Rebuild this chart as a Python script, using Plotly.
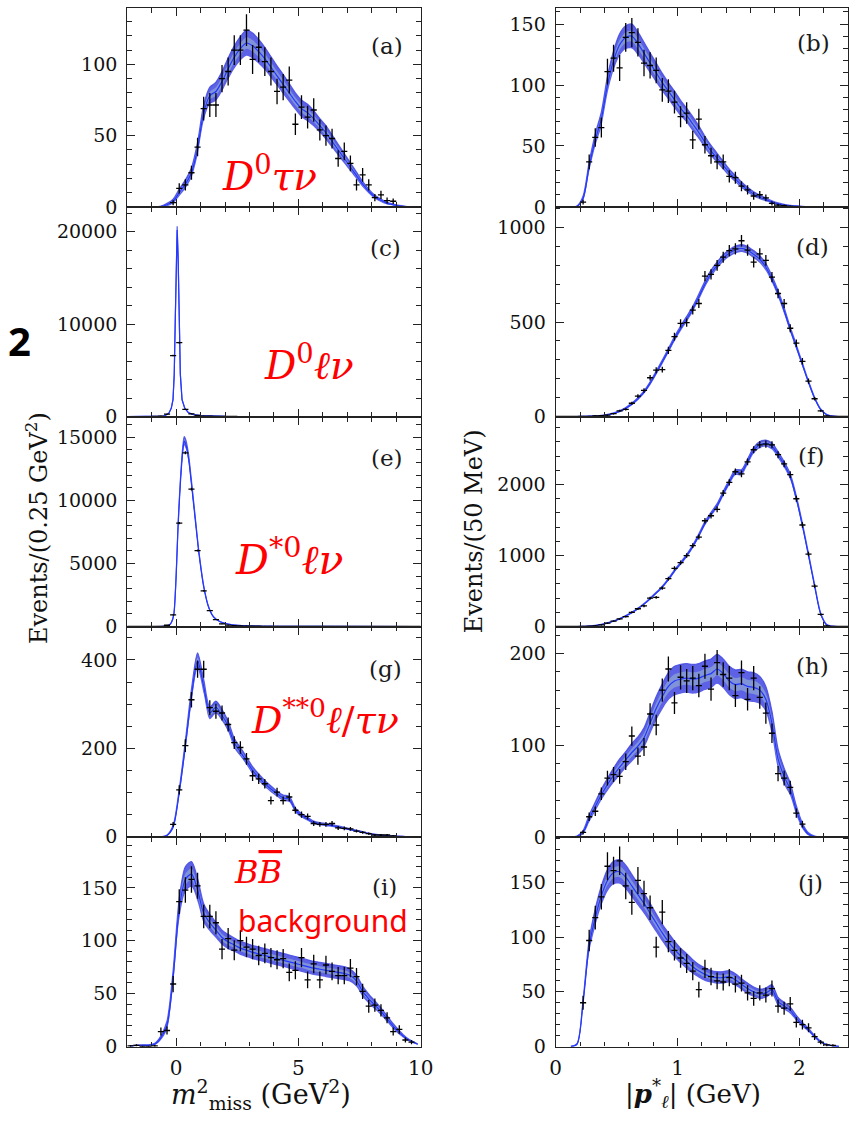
import plotly.graph_objects as go

W, H = 866, 1123

# ---------------- data ----------------
# Left column: m2_miss, bins of 0.25 GeV^2 (bin centres start at *_x0, step 0.25)
# Right column: |p*_l|, bins of 50 MeV (bin centres start at *_x0, step 0.05)

# (a) D0 tau nu, m2_miss
a_data_x0 = -0.125
a_data = [3, 13, 15.5, 24, 42, 69, 71.5, 71.5, 90, 95, 110, 110, 124, 103.5, 112, 102, 95,
          81, 84, 89, 58, 70, 63, 68, 54, 50, 48, 34, 39, 30.5, 15.5, 22.5, 15.5, 6.5, 8.5, 4.5, 4]
a_fit_x0 = -0.875
a_fit = [0, 0.3, 1.5, 4, 10, 16, 24, 41, 66, 78, 81, 88, 97, 105, 111, 115, 113, 109, 104, 98,
         92, 86, 80, 74, 69, 66, 62, 57, 52, 46, 40, 34, 28, 22, 16, 11, 7, 4.5, 2.5, 1.5, 0.8, 0.3, 0]
a_band = [0, 0.3, 1, 1.5, 2.5, 3, 3.5, 4.5, 5.5, 6, 6.5, 7, 7.5, 8, 8.5, 9, 9, 8.5, 8, 7.5,
          7, 7, 6.5, 6, 6, 6, 5.5, 5, 5, 4.5, 4, 3.5, 3, 2.5, 2, 1.5, 1.2, 1, 0.8, 0.5, 0.3, 0.2, 0]

# (b) D0 tau nu, p_l
b_data_x0 = 0.225
b_data = [4, 37, 57, 65, 111, 122, 114, 139, 143, 135, 118, 116, 112, 96, 95, 86, 74, 77, 55, 72,
          51, 42, 37, 37, 25, 24, 17, 14, 9, 10, 7.5, 3, 1.5, 1, 0.5]
b_fit_x0 = 0.125
b_fit = [0, 0.5, 7, 33, 55, 72, 100, 120, 133, 139, 140, 134, 126, 118, 110, 102, 95, 88, 81, 75,
         68, 61, 53, 46, 40, 34, 28, 23, 18, 14, 10.5, 8, 6, 4, 2.5, 1.5, 1, 0.6, 0.3, 0.1, 0]
b_band = [0, 0.3, 2, 4, 5, 6, 7, 8, 9, 9.5, 10, 9.5, 9, 8.5, 8, 7.5, 7, 7, 6.5, 6,
          6, 5.5, 5, 4.5, 4, 3.5, 3, 2.8, 2.5, 2.2, 2, 1.7, 1.4, 1.1, 0.8, 0.6, 0.4, 0.3, 0.2, 0.1, 0]

# (c) D0 l nu, m2_miss
c_data_x0 = -1.875
c_data = [0, 0, 0, 0, 20, 60, 260, 6600, 8000, 790, 300, 120, 60, 35, 20, 15, 10, 8, 6, 5,
          4, 3, 3, 2, 2, 2, 1, 1, 0, 0, 0, 0, 0, 0, 0, 0, 0, 0, 0, 0, 0, 0, 0, 0, 0, 0, 0, 0]
c_fit_x = [-2.0, -1.0, -0.5, -0.3, -0.2, -0.13, -0.08, -0.04, 0.0, 0.04, 0.08, 0.12, 0.17, 0.24,
           0.35, 0.5, 0.7, 1.0, 1.5, 2.0, 3.0, 5.0, 10.0]
c_fit = [0, 0, 50, 350, 900, 1800, 4500, 10000, 17000, 20200, 17000, 10000, 4500, 1800,
         900, 420, 220, 100, 40, 15, 5, 1, 0]
c_band = [0, 0, 5, 20, 40, 70, 150, 250, 350, 400, 350, 250, 150, 70, 40, 20, 10, 5, 2, 1, 0.5, 0, 0]

# (d) D0 l nu, p_l
d_data_x0 = 0.025
d_data = [0, 0, 0, 0, 0, 1, 3, 5, 7, 15, 30, 38, 70, 108, 138, 205, 245, 248, 350, 423,
          493, 497, 563, 598, 743, 752, 800, 843, 878, 887, 930, 881, 817, 861, 826, 738, 651, 598,
          467, 388, 292, 187, 94, 30, 3, 0, 0, 0]
d_fit_x0 = 0.125
d_fit = [0, 0, 0.5, 1.5, 3, 5, 9, 16, 27, 43, 65, 93, 128, 175, 230, 288, 348, 410, 465, 515,
         568, 632, 700, 757, 800, 838, 864, 882, 890, 880, 858, 832, 790, 727, 650, 560, 460, 368,
         273, 180, 96, 36, 9, 1.5, 0, 0]
d_band = [0, 0, 0.2, 0.5, 1, 1.5, 2, 3, 4, 5, 6, 7, 8, 9, 10, 11, 12, 13, 14, 15,
          15, 16, 17, 18, 18, 19, 19, 20, 20, 20, 20, 19, 19, 18, 17, 16, 14, 12, 10, 8,
          6, 4, 2, 1, 0, 0]

# (e) D*0 l nu, m2_miss
e_data_x0 = -1.875
e_data = [0, 0, 0, 0, 0, 0, 100, 920, 8190, 13770, 10890, 6020, 2830, 1260, 550, 210, 110, 70,
          45, 30, 25, 20, 15, 12, 10, 8, 7, 6, 5, 4, 4, 3, 3, 2, 2, 2, 1, 1, 1, 1,
          0, 0, 0, 0, 0, 0, 0, 0]
e_fit_x = [-2.0, -1.0, -0.5, -0.3, -0.2, -0.1, -0.03, 0.03, 0.08, 0.17, 0.27, 0.33, 0.4, 0.5,
           0.63, 0.8, 0.93, 1.13, 1.33, 1.53, 1.8, 2.3, 3.0, 4.0, 6.0, 10.0]
e_fit = [0, 0, 20, 100, 300, 900, 2800, 5500, 8000, 11300, 13900, 14700, 14400, 13400,
         11200, 8100, 5800, 3100, 1500, 750, 370, 130, 50, 20, 5, 0]
e_band = [0, 0, 2, 8, 20, 50, 120, 200, 250, 300, 350, 350, 350, 320, 280, 200, 150, 90, 50,
          25, 12, 5, 2, 1, 0, 0]

# (f) D*0 l nu, p_l
f_data_x0 = 0.025
f_data = [0, 0, 0, 0, 0, 5, 10, 23, 47, 75, 107, 140, 200, 250, 290, 400, 410, 540, 675, 820,
          900, 1000, 1140, 1260, 1490, 1560, 1650, 1880, 2030, 2180, 2150, 2320, 2490, 2560, 2570,
          2560, 2420, 2290, 2140, 1800, 1430, 1020, 570, 170, 10, 0, 0, 0]
f_fit_x0 = 0.125
f_fit = [0, 0, 2, 6, 14, 28, 48, 75, 108, 148, 195, 250, 315, 390, 470, 555, 660, 780, 885, 995,
         1125, 1280, 1450, 1580, 1700, 1870, 2030, 2170, 2170, 2320, 2480, 2560, 2580, 2540, 2420,
         2280, 2110, 1800, 1420, 1000, 570, 175, 20, 2, 0, 0]
f_band = [0, 0, 0.5, 1, 2, 3, 4, 5, 6, 7, 8, 9, 10, 12, 13, 15, 16, 18, 20, 22,
          24, 26, 28, 30, 32, 34, 36, 38, 40, 42, 44, 46, 46, 46, 45, 44, 42, 40, 36, 30,
          24, 16, 8, 3, 0, 0]

# (g) D**0 l/tau nu, m2_miss
g_data_x0 = -0.125
g_data = [28, 106, 206, 310, 379, 379, 292, 284, 280, 254, 213, 202, 176, 138, 131, 120, 82, 101,
          82, 90, 60, 50, 46, 30, 28, 28, 30, 20, 19, 18, 13, 10, 7, 4, 4, 4, 2]
g_fit_x0 = -0.625
g_fit = [0, 3, 22, 100, 205, 318, 398, 340, 280, 293, 275, 250, 212, 192, 172, 150, 134, 120, 108,
         97, 88, 85, 60, 48, 40, 32, 29, 27, 25, 22, 19, 16, 13, 10, 7, 5, 3.5, 2.5, 1.5, 1, 0.4, 0]
g_band = [0, 1, 4, 8, 12, 16, 18, 16, 14, 14, 13, 12, 11, 10, 9, 8.5, 8, 7.5, 7, 6.5,
          6.5, 6.5, 5, 4.5, 4, 3.5, 3, 3, 2.8, 2.5, 2.2, 2, 1.8, 1.5, 1.2, 1, 0.8, 0.6, 0.4, 0.3,
          0.1, 0]

# (h) D**0 l/tau nu, p_l
h_data_x0 = 0.225
h_data = [5, 22, 28, 47, 64, 68, 66, 82, 110, 88, 98, 134, 122, 160, 183, 146, 174, 170, 173, 165,
          186, 161, 190, 177, 173, 154, 179, 150, 173, 152, 135, 113, 69, 64, 54, 26, 14]
h_fit_x0 = 0.125
h_fit = [0, 0.5, 5, 20, 33, 46, 57, 67, 76, 84, 92, 99, 108, 124, 140, 153, 164, 170, 172, 173,
         172, 173, 176, 178, 183, 178, 170, 166, 167, 164, 163, 160, 150, 124, 85, 66, 52, 29, 12,
         3, 0.5, 0]
h_band = [0, 0.5, 2, 4, 5, 6, 7, 8, 9, 9, 10, 10, 11, 12, 13, 14, 15, 16, 16, 16,
          16, 16, 16, 16, 16, 16, 16, 16, 16, 16, 16, 15, 14, 13, 11, 9, 7, 5, 3, 1.5, 0.5, 0]

# (i) BB background, m2_miss
i_data_x0 = -1.875
i_data = [0.5, 1, 0, 0, 0.5, 14, 15, 59, 137, 148, 158, 152, 123, 123, 117, 92, 102, 91, 100, 94,
          92, 86, 88, 84, 82, 83, 70, 72, 84, 63, 78, 63, 77, 71, 67, 67, 74, 66, 52, 38,
          39, 34, 27, 14, 16, 6, 4]
i_fit_x0 = -1.875
i_fit = [0.3, 0.8, 1, 1, 2, 8, 20, 65, 130, 158, 163, 148, 126, 117, 110, 103, 99, 96, 93, 91,
         89, 87.5, 86, 84.5, 83, 81.5, 80, 78.5, 77, 75.5, 74, 73, 72, 71, 70, 69, 67, 62, 52, 45,
         39, 33, 26, 19, 13, 8, 4.5, 2]
i_band = [0.2, 0.3, 0.4, 0.4, 0.8, 2, 4, 7, 10, 12, 12, 11, 9, 8, 7.5, 7, 7, 6.5, 6.5, 6.5,
          6.5, 6.5, 6.5, 6.5, 6.5, 6.5, 6.5, 6.5, 6.5, 6.5, 6.5, 6.5, 6.5, 6.5, 6.5, 6.5, 6, 5.5,
          5, 4.5, 4, 3.5, 3, 2.5, 2, 1.2, 0.8, 0.4]

# (j) BB background, p_l
j_data_x0 = 0.225
j_data = [40, 97, 118, 137, 165, 161, 170, 147, 132, 152, 140, 127, 91, 123, 96, 88, 81, 76, 69, 52,
          71, 64, 60, 59, 63, 57, 58, 49, 44, 49, 47, 53, 37, 35, 39, 22, 20, 17, 9, 4, 1.5, 1]
j_fit_x0 = 0.125
j_fit = [0, 2, 40, 92, 118, 138, 152, 159, 160, 155, 147, 139, 131, 122, 113, 104, 96, 89, 83, 78,
         73, 69, 66, 64, 63, 63, 64, 61, 57, 53, 50, 48, 49, 52, 41, 37, 33, 26, 20, 15, 9, 4, 1.5,
         0.5, 0]
j_band = [0, 0.5, 3, 6, 8, 9, 10, 10.5, 11, 11, 10.5, 10, 9.5, 9, 8.5, 8, 8, 7.5, 7, 7,
          6.5, 6, 6, 5.5, 5.5, 5.5, 5.5, 5.5, 5, 5, 4.5, 4.5, 4.5, 4.5, 4, 3.5, 3, 2.5, 2, 1.5,
          1, 0.6, 0.3, 0.1, 0]

panel_labels = ["(a)", "(b)", "(c)", "(d)", "(e)", "(f)", "(g)", "(h)", "(i)", "(j)"]
left_ticks = ["0", "5", "10"]
right_ticks = ["0", "1", "2"]

# ---------------- layout helpers ----------------
LEFT_X = (124, 424)
RIGHT_X = (562, 861)
ROWS = [(8, 209), (209, 421), (421, 633), (633, 845.5), (845.5, 1057)]


def centres(x0, step, n):
    return [round(x0 + step * k, 5) for k in range(n)]


panels = [
    dict(col=0, row=0, dx=centres(a_data_x0, 0.25, len(a_data)), dy=a_data,
         fx=centres(a_fit_x0, 0.25, len(a_fit)), fy=a_fit, fb=a_band,
         yr=[0, 139.6], dt=50, mdt=10, shape="spline"),
    dict(col=1, row=0, dx=centres(b_data_x0, 0.05, len(b_data)), dy=b_data,
         fx=centres(b_fit_x0, 0.05, len(b_fit)), fy=b_fit, fb=b_band,
         yr=[0, 163.2], dt=50, mdt=10, shape="spline"),
    dict(col=0, row=1, dx=centres(c_data_x0, 0.25, len(c_data)), dy=c_data,
         fx=c_fit_x, fy=c_fit, fb=c_band,
         yr=[-30, 22690], dt=10000, mdt=2000, shape="linear"),
    dict(col=1, row=1, dx=centres(d_data_x0, 0.05, len(d_data)), dy=d_data,
         fx=centres(d_fit_x0, 0.05, len(d_fit)), fy=d_fit, fb=d_band,
         yr=[-2, 1109], dt=500, mdt=100, shape="spline"),
    dict(col=0, row=2, dx=centres(e_data_x0, 0.25, len(e_data)), dy=e_data,
         fx=e_fit_x, fy=e_fit, fb=e_band,
         yr=[-24, 16617], dt=5000, mdt=1000, shape="spline"),
    dict(col=1, row=2, dx=centres(f_data_x0, 0.05, len(f_data)), dy=f_data,
         fx=centres(f_fit_x0, 0.05, len(f_fit)), fy=f_fit, fb=f_band,
         yr=[-4, 2953], dt=1000, mdt=200, shape="spline"),
    dict(col=0, row=3, dx=centres(g_data_x0, 0.25, len(g_data)), dy=g_data,
         fx=centres(g_fit_x0, 0.25, len(g_fit)), fy=g_fit, fb=g_band,
         yr=[-1, 475], dt=200, mdt=50, shape="spline"),
    dict(col=1, row=3, dx=centres(h_data_x0, 0.05, len(h_data)), dy=h_data,
         fx=centres(h_fit_x0, 0.05, len(h_fit)), fy=h_fit, fb=h_band,
         yr=[-0.3, 229], dt=100, mdt=20, shape="spline"),
    dict(col=0, row=4, dx=centres(i_data_x0, 0.25, len(i_data)), dy=i_data,
         fx=centres(i_fit_x0, 0.25, len(i_fit)), fy=i_fit, fb=i_band,
         yr=[-0.3, 198], dt=50, mdt=10, shape="spline"),
    dict(col=1, row=4, dx=centres(j_data_x0, 0.05, len(j_data)), dy=j_data,
         fx=centres(j_fit_x0, 0.05, len(j_fit)), fy=j_fit, fb=j_band,
         yr=[-0.2, 191.6], dt=50, mdt=10, shape="spline"),
]

OUTER = "rgba(70,75,225,0.88)"
INNER = "rgba(130,150,215,0.95)"
LINE = "rgb(35,55,255)"
AXC = "#222222"
SERIF = "DejaVu Serif"
TICKFONT = dict(family=SERIF, size=19, color="#111111")

fig = go.Figure()
layout = dict(width=W, height=H, autosize=False, margin=dict(l=0, r=0, t=0, b=0),
              paper_bgcolor="white", plot_bgcolor="white", showlegend=False,
              font=dict(family=SERIF, color="#111111"))

for idx, p in enumerate(panels):
    n = idx + 1
    xa = "x" if n == 1 else f"x{n}"
    ya = "y" if n == 1 else f"y{n}"
    assert len(p["fx"]) == len(p["fy"]) == len(p["fb"]), idx
    lo = [f - b for f, b in zip(p["fy"], p["fb"])]
    hi = [f + b for f, b in zip(p["fy"], p["fb"])]
    lo2 = [f - 0.45 * b for f, b in zip(p["fy"], p["fb"])]
    hi2 = [f + 0.45 * b for f, b in zip(p["fy"], p["fb"])]
    shp = dict(shape=p["shape"], smoothing=0.8) if p["shape"] == "spline" else dict(shape="linear")
    # outer band
    fig.add_trace(go.Scatter(x=p["fx"], y=lo, xaxis=xa, yaxis=ya, mode="lines",
                             line=dict(width=0, color=OUTER, **shp), hoverinfo="skip"))
    fig.add_trace(go.Scatter(x=p["fx"], y=hi, xaxis=xa, yaxis=ya, mode="lines", fill="tonexty",
                             fillcolor=OUTER, line=dict(width=1.2, color=OUTER, **shp),
                             hoverinfo="skip"))
    # inner band
    fig.add_trace(go.Scatter(x=p["fx"], y=lo2, xaxis=xa, yaxis=ya, mode="lines",
                             line=dict(width=0, color=INNER, **shp), hoverinfo="skip"))
    fig.add_trace(go.Scatter(x=p["fx"], y=hi2, xaxis=xa, yaxis=ya, mode="lines", fill="tonexty",
                             fillcolor=INNER, line=dict(width=0, color=INNER, **shp),
                             hoverinfo="skip"))
    # central fit line
    fig.add_trace(go.Scatter(x=p["fx"], y=p["fy"], xaxis=xa, yaxis=ya, mode="lines",
                             line=dict(width=1.2, color=LINE, **shp), hoverinfo="skip"))
    # data points with error bars
    half = 0.125 if p["col"] == 0 else 0.025
    fig.add_trace(go.Scatter(x=p["dx"], y=p["dy"], xaxis=xa, yaxis=ya, mode="markers",
                             marker=dict(size=1, color="black"),
                             error_x=dict(type="constant", value=half, width=0, thickness=1.3,
                                          color="black"),
                             error_y=dict(type="sqrt", width=0, thickness=1.3, color="black")))

    xl, xr = LEFT_X if p["col"] == 0 else RIGHT_X
    top, bot = ROWS[p["row"]]
    bottom_row = p["row"] == 4
    if p["col"] == 0:
        xrange, xmdt, xtxt = [-2, 10], 1, left_ticks
        xvals = [0, 5, 10]
    else:
        xrange, xmdt, xtxt = [0, 2.4], 0.2, right_ticks
        xvals = [0, 1, 2]
    xkey = "xaxis" if n == 1 else f"xaxis{n}"
    ykey = "yaxis" if n == 1 else f"yaxis{n}"
    layout[xkey] = dict(domain=[xl / W, xr / W], anchor=ya, range=xrange,
                        showline=True, linecolor=AXC, linewidth=1.3, mirror="ticks",
                        ticks="inside", ticklen=8, tickwidth=1.3, tickcolor=AXC,
                        tickmode="array", tickvals=xvals, ticktext=xtxt,
                        showticklabels=bottom_row, tickfont=dict(TICKFONT, size=20),
                        ticklabelstandoff=3,
                        minor=dict(dtick=xmdt, tick0=0, ticks="inside", ticklen=4.5,
                                   tickwidth=1.2, tickcolor=AXC, showgrid=False),
                        showgrid=False, zeroline=False, fixedrange=True)
    layout[ykey] = dict(domain=[1 - bot / H, 1 - top / H], anchor=xa, range=p["yr"],
                        showline=True, linecolor=AXC, linewidth=1.3, mirror="ticks",
                        ticks="inside", ticklen=8, tickwidth=1.3, tickcolor=AXC,
                        tickmode="linear", tick0=0, dtick=p["dt"], tickformat="d",
                        tickfont=TICKFONT, ticklabelstandoff=5,
                        minor=dict(dtick=p["mdt"], tick0=0, ticks="inside", ticklen=4.5,
                                   tickwidth=1.2, tickcolor=AXC, showgrid=False),
                        showgrid=False, zeroline=False, fixedrange=True)

fig.update_layout(**layout)


def px(xp, yp):
    return dict(xref="paper", yref="paper", x=xp / W, y=1 - yp / H)


ann = []
# panel letters
label_pos = [(390, 46), (826, 43), (388, 250), (825, 249), (390, 463), (823, 461),
             (388, 676), (825, 673), (387, 896), (823, 892)]
for txt, (lx, ly) in zip(panel_labels, label_pos):
    ann.append(dict(text=txt, showarrow=False, xanchor="center", yanchor="middle",
                    font=dict(family=SERIF, size=23, color="#1a1a1a"), **px(lx, ly)))

# red channel labels
RED = "#ff0000"
red_labels = [
    ("<i>D</i><sup>0</sup><i>τν</i>", 269, 176, 39),
    ("<i>D</i><sup>0</sup><i>ℓν</i>", 310, 367, 39),
    ("<i>D</i><sup>*0</sup><i>ℓν</i>", 290, 563, 41),
    ("<i>D</i><sup>**0</sup><i>ℓ</i>/<i>τν</i>", 326, 724, 38),
    ("<i>B</i><i><span style='text-decoration:overline'>B</span></i>", 258, 881, 32),
]
for txt, lx, ly, sz in red_labels:
    ann.append(dict(text=txt, showarrow=False, xanchor="center", yanchor="middle",
                    font=dict(family=SERIF, size=sz, color=RED), **px(lx, ly)))
ann.append(dict(text="background", showarrow=False, xanchor="center", yanchor="middle",
                font=dict(family="Noto Sans", size=30, color=RED), **px(324, 930)))

# axis titles
ann.append(dict(text="Events/(0.25 GeV<sup>2</sup>)", textangle=-90, showarrow=False,
                xanchor="center", yanchor="middle",
                font=dict(family=SERIF, size=24, color="#111111"), **px(31, 533)))
ann.append(dict(text="Events/(50 MeV)", textangle=-90, showarrow=False,
                xanchor="center", yanchor="middle",
                font=dict(family=SERIF, size=24, color="#111111"), **px(478, 537)))
ann.append(dict(text="<i>m</i><sup>2</sup><sub>miss</sub> (GeV<sup>2</sup>)", showarrow=False,
                xanchor="center", yanchor="middle",
                font=dict(family=SERIF, size=27, color="#111111"), **px(261, 1105)))
ann.append(dict(text="|<b><i>p</i></b><sup>*</sup><sub><i>ℓ</i></sub>| (GeV)", showarrow=False,
                xanchor="center", yanchor="middle",
                font=dict(family=SERIF, size=26, color="#111111"), **px(702, 1104)))
# glyph at the left edge of the page
ann.append(dict(text="<b>2</b>", showarrow=False, xanchor="left", yanchor="middle",
                font=dict(family="Noto Sans", size=40, color="black"), **px(0, 344)))

fig.update_layout(annotations=ann)
fig.write_html("out.html")
